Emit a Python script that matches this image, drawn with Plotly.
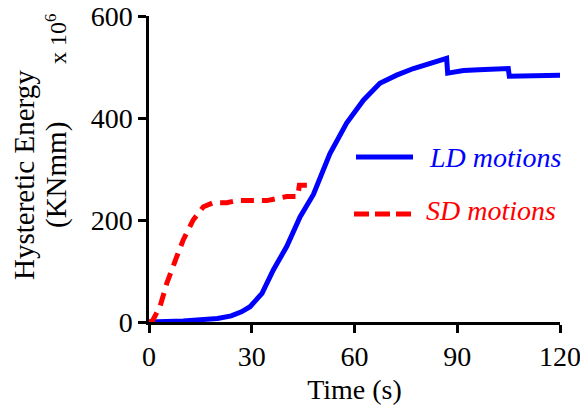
import plotly.graph_objects as go

# LD motions (blue, solid)
ld_time = [0, 10, 20, 24, 27, 29.5, 33, 36.3, 40.2, 44.1, 48, 52.8, 57.7, 62.6, 67.4, 72.3, 77.2, 82, 86.9, 87.2, 91.8, 98, 104.9, 105.2, 112, 120]
ld_energy = [0, 2, 7, 12, 20, 30, 56, 102, 148, 206, 250, 330, 390, 435, 468, 484, 497, 507, 517, 488, 493, 495, 497, 482, 483, 484]

# SD motions (red, dashed)
sd_time = [0, 1, 3.2, 5.2, 8.1, 10, 12.9, 15.9, 18.8, 22.7, 25.6, 29.5, 34.4, 40.2, 43.4, 43.9, 48]
sd_energy = [0, 2, 30, 76, 128, 161, 200, 226, 234, 234, 238, 238, 238, 246, 246, 268, 268]

x_ticks = [0, 30, 60, 90, 120]
y_ticks = [0, 200, 400, 600]

series_names = ["LD motions", "SD motions"]
y_title_lines = ["Hysteretic Energy", "(KNmm)"]

FONT = "Liberation Serif, Times New Roman, serif"
FS = 28

fig = go.Figure()
fig.add_trace(go.Scatter(x=ld_time, y=ld_energy, mode="lines", name=series_names[0],
                         line=dict(color="#0000FF", width=5), showlegend=False))
fig.add_trace(go.Scatter(x=sd_time, y=sd_energy, mode="lines", name=series_names[1],
                         line=dict(color="#FF0000", width=5, dash="13px,8px"), showlegend=False))

fig.update_layout(
    width=580, height=407,
    margin=dict(l=149, r=20, t=16, b=85),
    paper_bgcolor="white", plot_bgcolor="white",
    font=dict(family=FONT, size=FS, color="black"),
    xaxis=dict(range=[0, 120], tickvals=x_ticks, showgrid=False, zeroline=False,
               showline=True, linecolor="black", linewidth=2.5, automargin=False,
               ticks="outside", ticklen=8, tickwidth=2.5, tickcolor="black",
               ticklabeloverflow="allow",
               tickfont=dict(family=FONT, size=FS, color="black"),
               title=dict(text="Time (s)", font=dict(family=FONT, size=FS, color="black"), standoff=9)),
    yaxis=dict(range=[0, 600], tickvals=y_ticks, showgrid=False, zeroline=False,
               showline=True, linecolor="black", linewidth=2.5, automargin=False,
               ticks="outside", ticklen=8, tickwidth=2.5, tickcolor="black",
               ticksuffix="\u00a0",
               tickfont=dict(family=FONT, size=FS, color="black")),
    showlegend=False,
)

def px_x(p):
    return (p - 149) / 411.0

def px_y(p):
    return (322 - p) / 306.0

# y axis title (two lines)
fig.add_annotation(text=y_title_lines[0], xref="paper", yref="paper",
                   x=px_x(24), y=px_y(175), xanchor="center", yanchor="middle",
                   textangle=-90, showarrow=False,
                   font=dict(family=FONT, size=29, color="black"))
fig.add_annotation(text=y_title_lines[1], xref="paper", yref="paper",
                   x=px_x(57), y=px_y(175), xanchor="center", yanchor="middle",
                   textangle=-90, showarrow=False,
                   font=dict(family=FONT, size=29, color="black"))
# exponent
fig.add_annotation(text="x 10<sup>6</sup>", xref="paper", yref="paper",
                   x=px_x(56), y=px_y(39), xanchor="center", yanchor="middle",
                   textangle=-90, showarrow=False,
                   font=dict(family=FONT, size=24, color="black"))

# legend drawn manually
fig.add_shape(type="line", xref="paper", yref="paper",
              x0=px_x(356), x1=px_x(413), y0=px_y(157), y1=px_y(157),
              line=dict(color="#0000FF", width=5))
fig.add_shape(type="line", xref="paper", yref="paper",
              x0=px_x(354), x1=px_x(411), y0=px_y(214), y1=px_y(214),
              line=dict(color="#FF0000", width=5, dash="15px,6px"))
fig.add_annotation(text="<i>" + series_names[0] + "</i>", xref="paper", yref="paper",
                   x=px_x(427), y=px_y(157), xanchor="left", yanchor="middle",
                   showarrow=False, font=dict(family=FONT, size=FS, color="#0000FF"))
fig.add_annotation(text="<i>" + series_names[1] + "</i>", xref="paper", yref="paper",
                   x=px_x(424), y=px_y(210), xanchor="left", yanchor="middle",
                   showarrow=False, font=dict(family=FONT, size=FS, color="#FF0000"))

fig.write_html("out.html", config={"displayModeBar": False},
               post_script="document.body.style.margin='0';")
